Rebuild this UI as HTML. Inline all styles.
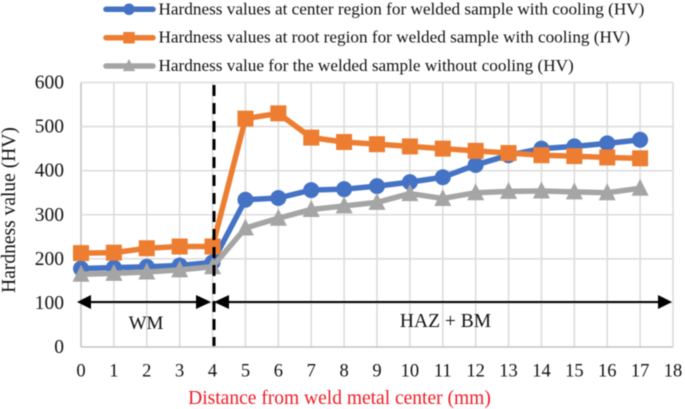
<!DOCTYPE html>
<html>
<head>
<meta charset="utf-8">
<style>
html,body{margin:0;padding:0;background:#fff;width:685px;height:409px;overflow:hidden}
svg{display:block;filter:blur(0.4px)}
text{font-family:"Liberation Serif",serif;fill:#111}
</style>
</head>
<body>
<svg id="chart" width="685" height="409" viewBox="0 0 685 409" xmlns="http://www.w3.org/2000/svg">
  <g id="grid"></g>
  <g id="ticks"></g>
  <g id="series"></g>
  <line x1="214" y1="85" x2="214" y2="346" stroke="#000" stroke-width="3" stroke-dasharray="11 7"/>
  <g>
    <line x1="88" y1="302" x2="200" y2="302" stroke="#000" stroke-width="2"/>
    <polygon points="77,302 91,295 91,309" fill="#000"/>
    <polygon points="211,302 196,295 196,309" fill="#000"/>
  </g>
  <g>
    <line x1="226" y1="302" x2="660" y2="302" stroke="#000" stroke-width="2"/>
    <polygon points="214,302 229,295 229,309" fill="#000"/>
    <polygon points="672,302 658,295 658,309" fill="#000"/>
  </g>
  <text x="146" y="329" font-size="19" text-anchor="middle">WM</text>
  <text x="445.500" y="327" font-size="19.500" text-anchor="middle">HAZ + BM</text>
  <text transform="translate(15,210) rotate(-90)" font-size="19.500" text-anchor="middle">Hardness value (HV)</text>
  <text x="339.500" y="404" font-size="19.500" text-anchor="middle" style="fill:#ee1c25">Distance from weld metal center (mm)</text>
  <g id="legend"></g>
</svg>
<script>
const categories = [0,1,2,3,4,5,6,7,8,9,10,11,12,13,14,15,16,17];
const xTickLabels = [0,1,2,3,4,5,6,7,8,9,10,11,12,13,14,15,16,17,18];
const yTickLabels = [0,100,200,300,400,500,600];
const centerValues = [178,180,182,185,192,334,338,356,358,365,374,385,413,435,450,455,462,470];
const rootValues = [213,214,224,228,228,518,530,475,465,460,455,450,445,440,435,433,430,428];
const noCoolingValues = [165,167,170,175,182,270,292,312,320,328,348,337,350,353,354,352,350,360];
const legendLabels = [
  "Hardness values at center region for welded sample with cooling (HV)",
  "Hardness values at root region for welded sample with cooling (HV)",
  "Hardness value for the welded sample without cooling (HV)"
];

const NS = "http://www.w3.org/2000/svg";
const xScale = v => 81 + (v / 18) * (673 - 81);
const yScale = v => 347 - (v / 600) * (347 - 82.5);

function make(parent, tag, attrs, text) {
  const el = document.createElementNS(NS, tag);
  for (const k in attrs) el.setAttribute(k, attrs[k]);
  if (text !== undefined) el.textContent = text;
  parent.appendChild(el);
  return el;
}

const grid = document.getElementById("grid");
const ticks = document.getElementById("ticks");
xTickLabels.forEach(v => {
  const ln = make(grid, "line", {x1:xScale(v), x2:xScale(v), y1:yScale(600), y2:yScale(0), stroke: v === 0 ? "#c4c4c4" : "#dcdcdc", "stroke-width":1.6});
  
  
  const t = make(ticks, "text", {x:xScale(v), y:376.5, "font-size":18.5, "text-anchor":"middle"}, v);
  
  
});
yTickLabels.forEach(v => {
  const ln = make(grid, "line", {x1:xScale(0), x2:xScale(18), y1:yScale(v), y2:yScale(v), stroke: v === 0 ? "#c4c4c4" : "#dcdcdc", "stroke-width":1.6});
  
  
  const t = make(ticks, "text", {x:64, y:yScale(v) + 6, "font-size":19.5, "text-anchor":"end"}, v);
  
  
});

function marker(parent, kind, x, y, color, scale) {
  const s = scale || 1;
  let m;
  if (kind === "circle") {
    m = make(parent, "circle", {cx:x, cy:y, r:8 * s, fill:color});
  } else if (kind === "square") {
    const h = 8 * s;
    m = make(parent, "rect", {x:x - h, y:y - h, width:2 * h, height:2 * h, fill:color});
  } else {
    const h = 8.5 * s;
    m = make(parent, "polygon", {points:`${x},${y - h - 1} ${x + h},${y + h - 1} ${x - h},${y + h - 1}`, fill:color});
  }
  return m;
}

const seriesGroup = document.getElementById("series");
function drawSeries(values, color, kind, name) {
  const g = make(seriesGroup, "g", {});
  
  
  const pts = values.map((v, i) => xScale(categories[i]) + "," + yScale(v)).join(" ");
  const pl = make(g, "polyline", {points:pts, fill:"none", stroke:color, "stroke-width":5.5, "stroke-linejoin":"round"});
  
  
  values.forEach((v, i) => {
    const m = marker(g, kind, xScale(categories[i]), yScale(v), color);
    
    
  });
}
drawSeries(centerValues, "#4472c4", "circle", "center-region-series");
drawSeries(noCoolingValues, "#a5a5a5", "triangle", "no-cooling-series");
drawSeries(rootValues, "#ed7d31", "square", "root-region-series");

const legend = document.getElementById("legend");
const legendColors = ["#4472c4", "#ed7d31", "#a5a5a5"];
const legendKinds = ["circle", "square", "triangle"];
const legendRows = [9.3, 37.7, 66];
legendLabels.forEach((label, i) => {
  const g = make(legend, "g", {});
  
  
  make(g, "line", {x1:106, x2:153, y1:legendRows[i], y2:legendRows[i], stroke:legendColors[i], "stroke-width":5.5, "stroke-linecap":"round"});
  marker(g, legendKinds[i], 129, legendRows[i], legendColors[i], 0.72);
  const t = make(g, "text", {x:158.5, y:legendRows[i] + 5, "font-size":17.2}, label);
  
  
});
</script>
</body>
</html>
